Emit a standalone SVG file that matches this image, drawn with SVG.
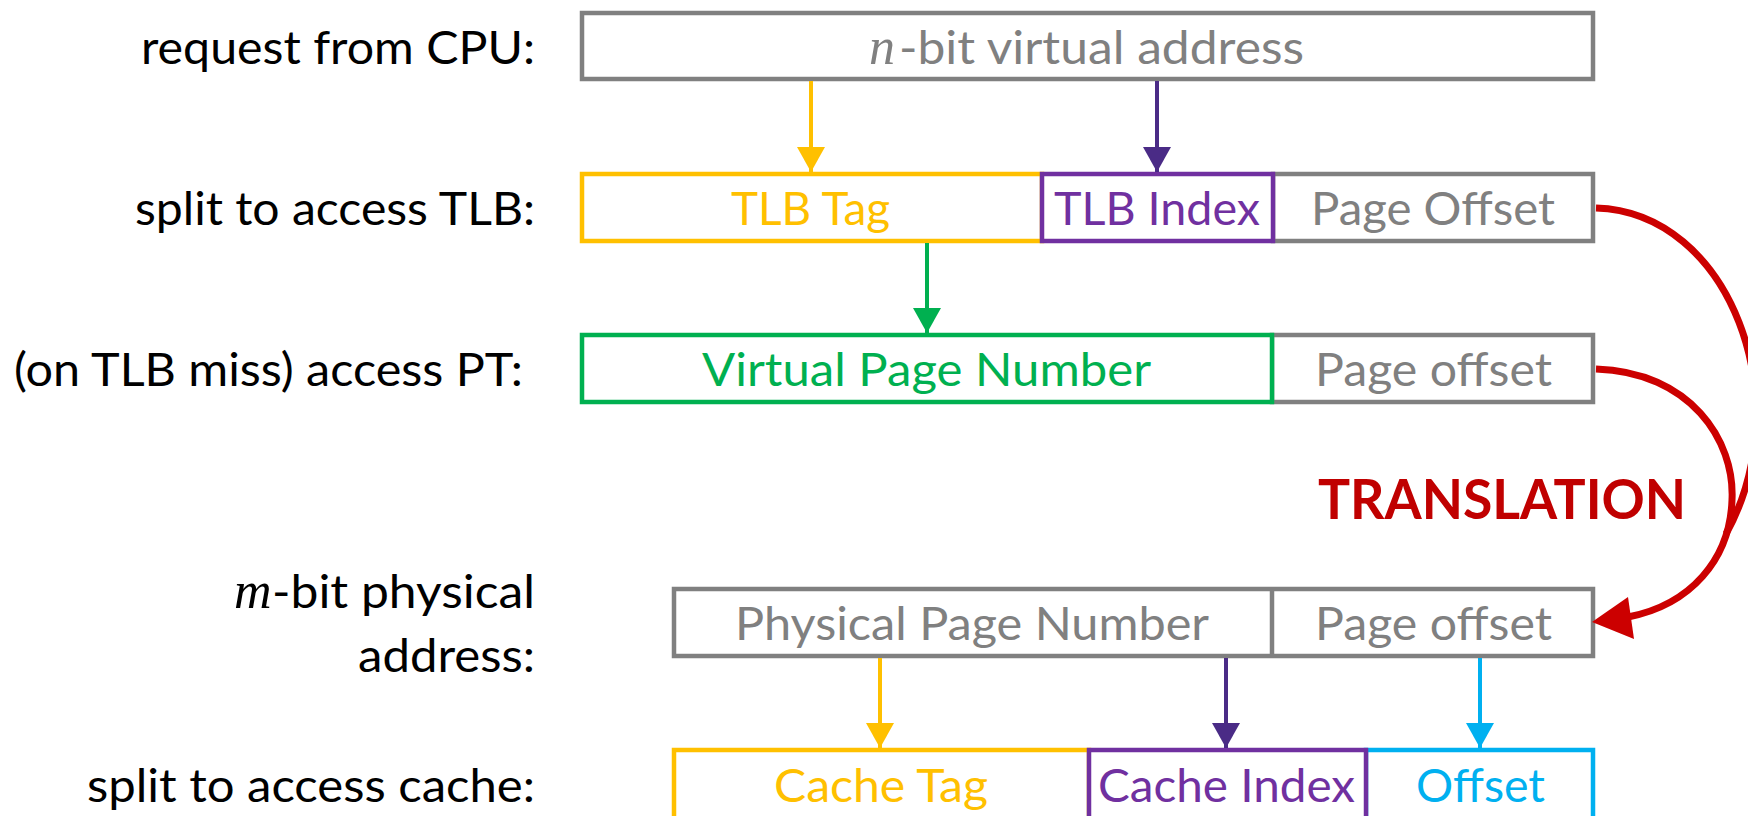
<svg xmlns="http://www.w3.org/2000/svg" width="1748" height="816" viewBox="0 0 1748 816">
<style>
.lbl{font-family:Lato,"Open Sans","Liberation Sans",sans-serif;font-size:46px;fill:#000}
.bt{font-family:Lato,"Open Sans","Liberation Sans",sans-serif;font-size:46px}
.math{font-family:"Liberation Serif","DejaVu Serif",serif;font-style:italic;font-size:52px}
.box{fill:#fff;stroke-width:4.5}
.gray{stroke:#808080}.yel{stroke:#FFC000}.pur{stroke:#7030A0}.grn{stroke:#00B050}.blu{stroke:#00B0F0}
.tg{fill:#808080}.ty{fill:#FFC000}.tp{fill:#7030A0}.tgr{fill:#00B050}.tb{fill:#00B0F0}
.ar{stroke-width:4;fill:none}
.red{fill:none;stroke:#CC0000;stroke-width:7}
</style>
<defs>
<marker id="mY" viewBox="0 0 25 28" refX="25" refY="14" markerWidth="25" markerHeight="28" markerUnits="userSpaceOnUse" orient="auto"><path d="M0,0 L25,14 L0,28 Z" fill="#FFC000"/></marker>
<marker id="mP" viewBox="0 0 25 28" refX="25" refY="14" markerWidth="25" markerHeight="28" markerUnits="userSpaceOnUse" orient="auto"><path d="M0,0 L25,14 L0,28 Z" fill="#4A2B86"/></marker>
<marker id="mG" viewBox="0 0 25 28" refX="25" refY="14" markerWidth="25" markerHeight="28" markerUnits="userSpaceOnUse" orient="auto"><path d="M0,0 L25,14 L0,28 Z" fill="#00B050"/></marker>
<marker id="mB" viewBox="0 0 25 28" refX="25" refY="14" markerWidth="25" markerHeight="28" markerUnits="userSpaceOnUse" orient="auto"><path d="M0,0 L25,14 L0,28 Z" fill="#00B0F0"/></marker>
</defs>
<rect width="1748" height="816" fill="#fff"/>

<g id="labels">
<text class="lbl" x="141" y="64" textLength="394" lengthAdjust="spacingAndGlyphs">request from CPU:</text>
<text class="lbl" x="135" y="225" textLength="400" lengthAdjust="spacingAndGlyphs">split to access TLB:</text>
<text class="lbl" x="14" y="386" textLength="509" lengthAdjust="spacingAndGlyphs">(on TLB miss) access PT:</text>
<text class="math" x="234" y="608" fill="#000">m</text>
<text class="lbl" x="272" y="608" textLength="263" lengthAdjust="spacingAndGlyphs">-bit physical</text>
<text class="lbl" x="358" y="672" textLength="177" lengthAdjust="spacingAndGlyphs">address:</text>
<text class="lbl" x="87" y="802" textLength="448" lengthAdjust="spacingAndGlyphs">split to access cache:</text>
</g>

<g id="virtual-address">
<rect class="box gray" x="582" y="13" width="1011" height="66"/>
<text class="math tg" x="869" y="64">n</text>
<text class="bt tg" x="899" y="64" textLength="405" lengthAdjust="spacingAndGlyphs">-bit virtual address</text>
</g>

<g id="tlb-split">
<g id="tlb-offset"><rect class="box gray" x="1273" y="174" width="320" height="67"/>
<text class="bt tg" x="1311" y="225" textLength="244" lengthAdjust="spacingAndGlyphs">Page Offset</text></g>
<g id="tlb-tag"><rect class="box yel" x="582" y="174" width="460" height="67"/>
<text class="bt ty" x="731" y="225" textLength="159" lengthAdjust="spacingAndGlyphs">TLB Tag</text></g>
<g id="tlb-index"><rect class="box pur" x="1042" y="174" width="231" height="67"/>
<text class="bt tp" x="1054" y="225" textLength="206" lengthAdjust="spacingAndGlyphs">TLB Index</text></g>
</g>

<g id="pt-split">
<g id="pt-offset"><rect class="box gray" x="1272" y="335" width="321" height="67"/>
<text class="bt tg" x="1315" y="386" textLength="237" lengthAdjust="spacingAndGlyphs">Page offset</text></g>
<g id="vpn"><rect class="box grn" x="582" y="335" width="690" height="67"/>
<text class="bt tgr" x="702" y="386" textLength="449" lengthAdjust="spacingAndGlyphs">Virtual Page Number</text></g>
</g>

<g id="physical-address">
<rect class="box gray" x="674" y="589" width="919" height="67"/>
<line x1="1272" y1="589" x2="1272" y2="656" stroke="#808080" stroke-width="4.5"/>
<text class="bt tg" x="735" y="640" textLength="474" lengthAdjust="spacingAndGlyphs">Physical Page Number</text>
<text class="bt tg" x="1315" y="640" textLength="237" lengthAdjust="spacingAndGlyphs">Page offset</text>
</g>

<g id="cache-split">
<g id="cache-tag"><rect class="box yel" x="674" y="750" width="415" height="80"/>
<text class="bt ty" x="774" y="802" textLength="214" lengthAdjust="spacingAndGlyphs">Cache Tag</text></g>
<g id="cache-offset"><rect class="box blu" x="1366" y="750" width="227" height="80"/>
<text class="bt tb" x="1416" y="802" textLength="129" lengthAdjust="spacingAndGlyphs">Offset</text></g>
<g id="cache-index"><rect class="box pur" x="1089" y="750" width="277" height="80"/>
<text class="bt tp" x="1098" y="802" textLength="257" lengthAdjust="spacingAndGlyphs">Cache Index</text></g>
</g>

<g id="translation-label">
<text x="1318" y="519" font-family="Lato,'Liberation Sans',sans-serif" font-weight="700" font-size="55" fill="#C00000" textLength="368" lengthAdjust="spacingAndGlyphs">TRANSLATION</text>
</g>

<g id="connectors">
<line class="ar" x1="811" y1="81" x2="811" y2="172" stroke="#FFC000" marker-end="url(#mY)"/>
<line class="ar" x1="1157" y1="81" x2="1157" y2="172" stroke="#4A2B86" marker-end="url(#mP)"/>
<line class="ar" x1="927" y1="243" x2="927" y2="333" stroke="#00B050" marker-end="url(#mG)"/>
<line class="ar" x1="880" y1="658" x2="880" y2="748" stroke="#FFC000" marker-end="url(#mY)"/>
<line class="ar" x1="1226" y1="658" x2="1226" y2="748" stroke="#4A2B86" marker-end="url(#mP)"/>
<line class="ar" x1="1480" y1="658" x2="1480" y2="748" stroke="#00B0F0" marker-end="url(#mB)"/>
<path class="red" d="M1596,208 C1730,212 1800,400 1726,534"/>
<path class="red" d="M1596,369 C1690,372 1735,440 1732,500 C1730,560 1690,605 1628,617"/>
<polygon points="1592,622 1628,597 1634,639" fill="#CC0000"/>
</g>
</svg>
